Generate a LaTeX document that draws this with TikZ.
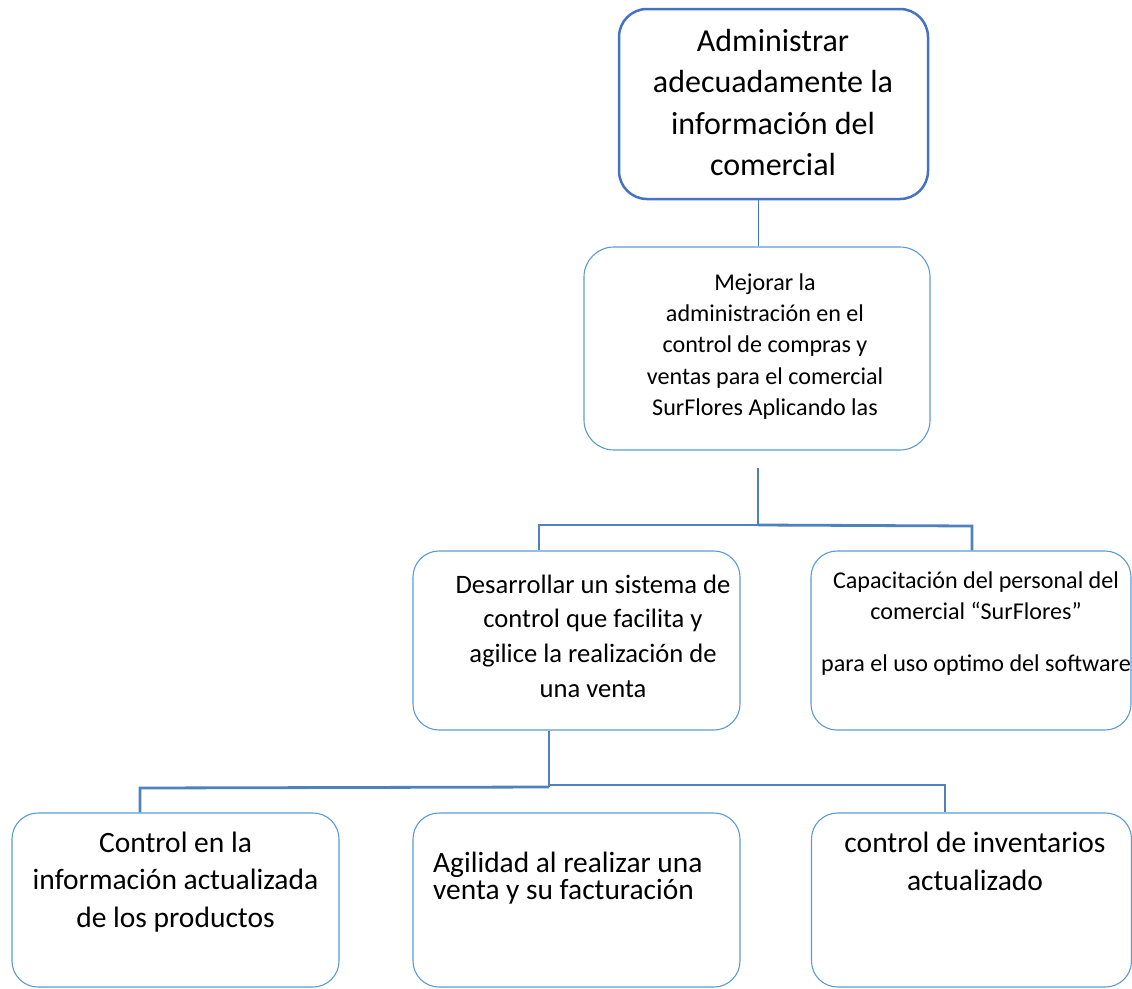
\documentclass[tikz,border=0pt]{standalone}
\usepackage{fontspec}
\setmainfont{Carlito}
\definecolor{topblue}{HTML}{4472C4}
\definecolor{boxblue}{HTML}{5B9BD5}
\definecolor{linkblue}{HTML}{4F81BD}
\tikzset{
  topbox/.style={draw=topblue, line width=2.5pt, rounded corners=28pt, inner sep=0pt},
  plainbox/.style={draw=boxblue, line width=1.1pt, rounded corners=26pt, inner sep=0pt},
  txt/.style={inner sep=0pt, anchor=north, align=center, text=black},
  conn/.style={draw=linkblue, line width=2.8pt},
  thinconn/.style={draw=topblue, line width=1pt}
}
\begin{document}
\begin{tikzpicture}[x=1pt, y=-1pt]
\useasboundingbox (0,0) rectangle (1132,988);

% boxes
\node[topbox, minimum width=309pt, minimum height=190pt] (top) at (773.5,104) {};
\node[plainbox, rounded corners=30pt, minimum width=346pt, minimum height=203pt] (mejorar) at (757,348.5) {};
\node[plainbox, minimum width=327pt, minimum height=179pt] (desarrollar) at (576.5,640.5) {};
\node[plainbox, minimum width=320pt, minimum height=179pt] (capacitacion) at (971,640.5) {};
\node[plainbox, minimum width=327pt, minimum height=174pt] (controlinfo) at (175.5,900) {};
\node[plainbox, minimum width=327pt, minimum height=174pt] (agilidad) at (576.5,900) {};
\node[plainbox, minimum width=320pt, minimum height=174pt] (inventarios) at (971.5,900) {};

% texts
\node[txt, font=\fontsize{32}{41.5}\selectfont] (ttop) at (773,21.9)
  {\strut Administrar\\adecuadamente la\\información del\\comercial};
\node[txt, font=\fontsize{24.1}{31.4}\selectfont] (tmejorar) at (765,268)
  {\strut Mejorar la\\administración en el\\control de compras y\\ventas para el comercial\\SurFlores Aplicando las};
\node[txt, font=\fontsize{26.6}{34.7}\selectfont] (tdesarrollar) at (593,568.7)
  {\strut Desarrollar un sistema de\\control que facilita y\\agilice la realización de\\una venta};
\node[txt, font=\fontsize{24.1}{31}\selectfont] (tcapacitacion) at (976,566.3)
  {\strut Capacitación del personal del\\comercial “SurFlores”\\[21pt]para el uso optimo del software};
\node[txt, font=\fontsize{29.5}{37.5}\selectfont] (tcontrolinfo) at (175.5,825.8)
  {\strut Control en la\\información actualizada\\de los productos};
\node[txt, anchor=north west, align=left, font=\fontsize{29.4}{27.5}\selectfont] (tagilidad) at (433,847)
  {\rule{0pt}{25pt}Agilidad al realizar una\\venta y su facturación};
\node[txt, font=\fontsize{29.5}{38}\selectfont] (tinventarios) at (975,825.4)
  {\strut control de inventarios\\actualizado};

% junction coordinates
\coordinate (j1top) at (758,468);
\coordinate (j1) at (758,525);
\coordinate (a3) at (539,525);
\coordinate (a4) at (972,526);
\coordinate (j2) at (549,787);
\coordinate (j2r) at (549,785);
\coordinate (a5) at (140,788);
\coordinate (a7) at (945,785);
\coordinate (ctop) at (758,0);

% connectors
\draw[thinconn] (top.south -| ctop) -- (mejorar.north -| ctop);
\draw[conn] (j1top) -- (j1);
\draw[conn] (j1) -- (a3) -- (a3 |- desarrollar.north);
\draw[conn] (j1) -- (a4) -- (a4 |- capacitacion.north);
\draw[conn] (desarrollar.south -| j2) -- (j2);
\draw[conn] (j2) -- (a5) -- (a5 |- controlinfo.north);
\draw[conn] (j2r) -- (a7) -- (a7 |- inventarios.north);
\end{tikzpicture}
\end{document}
